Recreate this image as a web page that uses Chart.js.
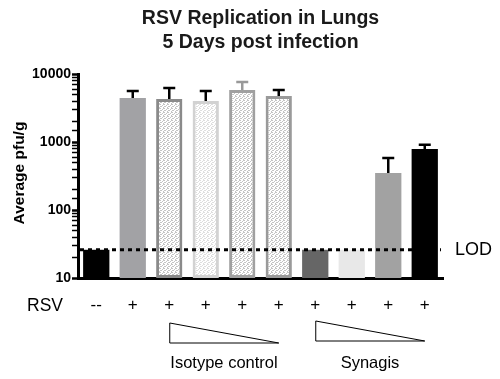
<!DOCTYPE html>
<html>
<head>
<meta charset="utf-8">
<script src="https://cdn.jsdelivr.net/npm/chart.js@4.4.1/dist/chart.umd.min.js"></script>
<style>
html, body { margin: 0; padding: 0; background: #fff; }
#wrap { width: 500px; height: 379px; }
</style>
</head>
<body>
<div id="wrap"><canvas id="rsv_chart"></canvas></div>
<script>
// data
var categories = ['--', '+', '+', '+', '+', '+', '+', '+', '+', '+'];
var pfuMean = [26, 4450, 4300, 4000, 5800, 4750, 26, 26, 350, 790];
var pfuUpper = [null, 5600, 6200, 5600, 7600, 5800, null, null, 580, 910];
var lodValue = 26;
var rowLabel = 'RSV';
var groupNames = ['Isotype control', 'Synagis'];
var groupStart = [2, 6];
var groupEnd = [5, 9];
var titleLines = ['RSV Replication in Lungs', '5 Days post infection'];

var FONT = "'Liberation Sans', Arial, sans-serif";

// stipple fill for the isotype bars
function stipple(col) {
    var c = document.createElement('canvas');
    c.width = 4; c.height = 4;
    var g = c.getContext('2d');
    g.fillStyle = '#fff';
    g.fillRect(0, 0, 4, 4);
    g.fillStyle = col;
    [[0, 0], [2, 1], [1, 2], [3, 3], [3, 0], [0, 2]].forEach(function (p) {
        g.fillRect(p[0], p[1], 1, 1);
    });
    return g.createPattern(c, 'repeat');
}
var dotMid = stipple('#c4c4c4');
var dotLight = stipple('#dedede');

var fills = ['#000', '#a2a2a5', dotMid, dotLight, dotMid, dotMid, '#666', '#e8e8e8', '#a2a2a2', '#000'];
var borders = ['#000', '#a2a2a5', '#8a8a8a', '#d2d2d2', '#a0a0a0', '#9a9a9a', '#666', '#e8e8e8', '#a2a2a2', '#000'];
var borderW = [0, 0, 3, 3, 3, 3, 0, 0, 0, 0];
var errColors = ['#000', '#000', '#000', '#000', '#999', '#000', '#000', '#000', '#000', '#000'];

var extras = {
    id: 'extras',
    afterDatasetsDraw: function (chart) {
        var ctx = chart.ctx, x = chart.scales.x, y = chart.scales.y, area = chart.chartArea;
        ctx.save();
        // error bars (upper only)
        pfuUpper.forEach(function (u, i) {
            if (u == null) return;
            var cx = x.getPixelForValue(i);
            var y0 = y.getPixelForValue(pfuMean[i]);
            var y1 = y.getPixelForValue(u);
            ctx.strokeStyle = errColors[i];
            ctx.lineWidth = 2.5;
            ctx.beginPath();
            ctx.moveTo(cx, y0); ctx.lineTo(cx, y1);
            ctx.moveTo(cx - 6, y1); ctx.lineTo(cx + 6, y1);
            ctx.stroke();
        });
        // limit of detection
        var ly = y.getPixelForValue(lodValue);
        ctx.strokeStyle = '#000';
        ctx.lineWidth = 3;
        ctx.setLineDash([4, 4]);
        ctx.beginPath();
        ctx.moveTo(area.left + 2, ly); ctx.lineTo(area.right - 2, ly);
        ctx.stroke();
        ctx.setLineDash([]);
        ctx.fillStyle = '#000';
        ctx.font = '18px ' + FONT;
        ctx.textAlign = 'left';
        ctx.textBaseline = 'middle';
        ctx.fillText('LOD', area.right + 12, ly);
        ctx.restore();
    },
    afterDraw: function (chart) {
        var ctx = chart.ctx, x = chart.scales.x, area = chart.chartArea;
        ctx.save();
        // title
        ctx.fillStyle = '#1a1a1a';
        ctx.font = 'bold 19.5px ' + FONT;
        ctx.textAlign = 'center';
        ctx.textBaseline = 'middle';
        var mid = (area.left + area.right) / 2;
        ctx.fillText(titleLines[0], mid, 19);
        ctx.fillText(titleLines[1], mid, 43);
        // y title
        ctx.fillStyle = '#000';
        ctx.font = 'bold 15.5px ' + FONT;
        ctx.translate(20, 173);
        ctx.rotate(-Math.PI / 2);
        ctx.fillText('Average pfu/g', 0, 0);
        ctx.setTransform(1, 0, 0, 1, 0, 0);
        // row label
        ctx.font = '17.5px ' + FONT;
        ctx.textAlign = 'left';
        ctx.fillText(rowLabel, 27, 306);
        // dose triangles + group names
        ctx.strokeStyle = '#000';
        ctx.lineWidth = 1;
        ctx.font = '16.5px ' + FONT;
        ctx.textAlign = 'center';
        groupNames.forEach(function (name, k) {
            var a = x.getPixelForValue(groupStart[k]);
            var b = x.getPixelForValue(groupEnd[k]);
            var top = k === 0 ? 323 : 321;
            ctx.beginPath();
            ctx.moveTo(a + 0.5, top);
            ctx.lineTo(a + 0.5, top + 20);
            ctx.lineTo(b, top + 20);
            ctx.closePath();
            ctx.stroke();
            ctx.fillText(name, (a + b) / 2, 363);
        });
        ctx.restore();
    }
};

window.onload = function () {
    var el = document.getElementById('rsv_chart');
    new Chart(el, {
        type: 'bar',
        data: {
            labels: categories,
            datasets: [{
                data: pfuMean,
                backgroundColor: fills,
                borderColor: borders,
                borderWidth: borderW,
                borderSkipped: false,
                categoryPercentage: 1,
                barPercentage: 0.72
            }]
        },
        options: {
            responsive: true,
            maintainAspectRatio: false,
            animation: false,
            layout: { padding: { top: 74, right: 57, left: 0, bottom: 0 } },
            plugins: {
                legend: { display: false },
                title: { display: false },
                tooltip: { enabled: false }
            },
            scales: {
                x: {
                    grid: { display: false, drawTicks: false },
                    border: { display: true, width: 3, color: '#000' },
                    ticks: { color: '#000', padding: 17, font: { size: 17, family: FONT } },
                    afterFit: function (s) { s.height = 101; }
                },
                y: {
                    type: 'logarithmic',
                    min: 10,
                    max: 10000,
                    border: { display: true, width: 3, color: '#000' },
                    grid: {
                        drawOnChartArea: false,
                        color: '#000',
                        tickLength: 6,
                        tickWidth: function (c) {
                            return c.tick && Number.isInteger(Math.round(Math.log10(c.tick.value) * 1000) / 1000) ? 2.5 : 1.5;
                        }
                    },
                    ticks: {
                        autoSkip: false,
                        color: '#000',
                        padding: 1,
                        font: { size: 14, weight: 'bold', family: FONT },
                        callback: function (v) {
                            var l = Math.log10(v);
                            return Math.abs(l - Math.round(l)) < 1e-6 ? String(v) : '';
                        }
                    },
                    afterFit: function (s) { s.width = 78; }
                }
            }
        },
        plugins: [extras]
    });
};
</script>
</body>
</html>
